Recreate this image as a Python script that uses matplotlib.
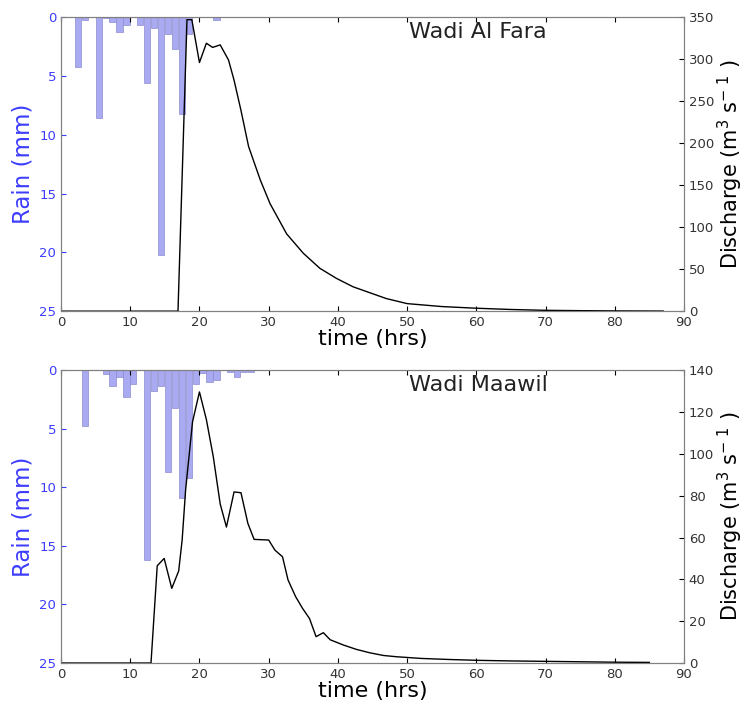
import matplotlib
matplotlib.use('Agg')
import matplotlib.pyplot as plt

# --- rainfall (mm per hour, bar left edge in hrs) and discharge (m3/s) ---
fara_rain_t = [2, 3, 5, 6, 7, 8, 9, 11, 12, 13, 14, 15, 16, 17, 18, 22]
fara_rain = [4.2, 0.25, 8.6, 0.1, 0.45, 1.25, 0.7, 0.7, 5.6, 0.9, 20.2, 1.45, 2.7, 8.25, 1.45, 0.25]
fara_q_t = [0, 16.9, 18.2, 18.9, 20.0, 21.0, 21.9, 23.0, 24.2, 25.0, 26.0, 27.1, 28.8, 30.2,
            32.6, 35.0, 37.4, 39.8, 42.2, 44.6, 47, 50, 55, 60, 65, 70, 75, 80, 87]
fara_q = [0, 0, 347, 347, 296, 319, 314, 317, 299, 275, 239, 196, 156, 128,
          92, 69, 51, 39, 29, 22, 15, 9, 5.5, 3.5, 2, 1, 0.6, 0.3, 0.1]

maawil_rain_t = [3, 6, 7, 8, 9, 10, 12, 13, 14, 15, 16, 17, 18, 19, 20, 21, 22, 24, 25, 26, 27]
maawil_rain = [4.8, 0.34, 1.37, 0.57, 2.33, 1.2, 16.2, 1.77, 1.37, 8.7, 3.2, 10.95, 9.2,
               1.2, 0.2, 1.0, 0.8, 0.15, 0.57, 0.15, 0.15]
maawil_q_t = [0, 13.0, 13.9, 14.9, 16.0, 17.0, 17.5, 18.0, 19.0, 20.0, 21.0, 22.0, 23.0, 23.9,
              25.0, 26.0, 27.0, 27.9, 30.0, 30.9, 32.0, 32.8, 33.9, 34.9, 35.9, 36.85, 37.9,
              38.9, 40.8, 42.7, 44.6, 46.6, 48.5, 52, 56, 60, 65, 70, 75, 80, 85]
maawil_q = [0, 0, 46.5, 50, 35.7, 44, 58.8, 82.7, 115.3, 129.6, 116.4, 98.6, 76, 65,
            81.8, 81.4, 66.7, 59.1, 58.8, 54, 50.8, 39.7, 31.7, 26.1, 21.3, 12.6, 14.5,
            11.1, 8.6, 6.5, 4.9, 3.6, 3.0, 2.2, 1.7, 1.3, 1.0, 0.8, 0.6, 0.4, 0.3]

rain_blue = '#3c3cff'
spine_grey = '#808080'

fig = plt.figure(figsize=(7.46, 7.04), dpi=100)


def panel(rect, rain_t, rain, q_t, q, qmax, qstep, name):
    ax = fig.add_axes(rect)
    ax.bar(rain_t, rain, width=0.9, align='edge', color='#aaaaf2',
           edgecolor='#8c8cd0', linewidth=0.5)
    ax.set_xlim(0, 90)
    ax.set_ylim(25, 0)
    ax.set_yticks(range(0, 26, 5))
    ax.set_xticks(range(0, 91, 10))
    ax.set_ylabel('Rain (mm)', color=rain_blue, fontsize=16.5, labelpad=3)
    ax.set_xlabel('time (hrs)', fontsize=16, labelpad=0)
    ax.tick_params(axis='y', colors=rain_blue, labelsize=9.5, direction='in')
    ax.tick_params(axis='x', labelsize=9.5, direction='in', top=True, labelcolor='#333333')
    for s in ax.spines.values():
        s.set_color(spine_grey)

    ax2 = ax.twinx()
    ax2.plot(q_t, q, color='black', linewidth=1)
    ax2.set_ylim(0, qmax)
    ax2.set_yticks(range(0, qmax + 1, qstep))
    ax2.set_xlim(0, 90)
    ax2.set_ylabel('Discharge (m$^3$ s$^{-\\ 1}$ )', fontsize=15, labelpad=1)
    ax2.tick_params(axis='y', labelsize=9.5, direction='in', labelcolor='#333333')
    for s in ax2.spines.values():
        s.set_color(spine_grey)
    ax2.text(50.3, qmax * 0.95, name, fontsize=16, va='center', color='#222222')
    return ax, ax2


panel([0.0818, 0.558, 0.835, 0.4176], fara_rain_t, fara_rain, fara_q_t, fara_q, 350, 50, 'Wadi Al Fara')
panel([0.0818, 0.0582, 0.835, 0.416], maawil_rain_t, maawil_rain, maawil_q_t, maawil_q, 140, 20, 'Wadi Maawil')

fig.savefig('out.png', dpi=100)
